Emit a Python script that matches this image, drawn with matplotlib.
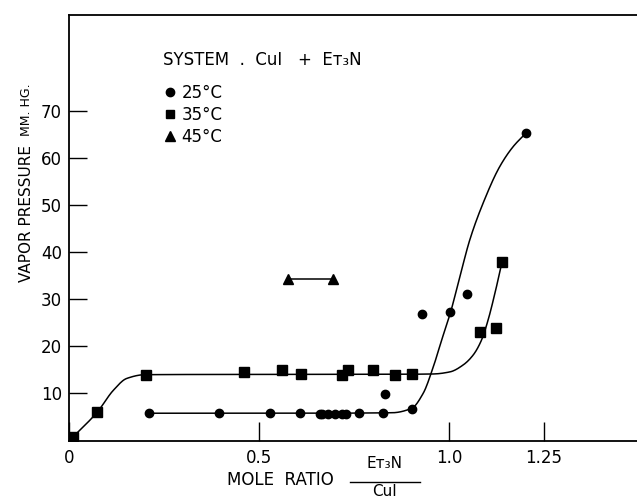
import numpy as np
import matplotlib
matplotlib.use("Agg")
import matplotlib.pyplot as plt
from matplotlib.lines import Line2D

plt.rcParams['font.family'] = ['DejaVu Sans']

x25 = [0.211, 0.396, 0.529, 0.608, 0.661, 0.665, 0.682, 0.700, 0.718, 0.728,
       0.764, 0.827, 0.833, 0.902, 0.930, 1.004, 1.047, 1.203]
y25 = [5.8, 5.9, 5.9, 5.9, 5.7, 5.6, 5.6, 5.6, 5.6, 5.7,
       5.9, 5.9, 9.9, 6.8, 26.9, 27.3, 31.1, 65.4]

x35 = [0.01, 0.073, 0.202, 0.461, 0.560, 0.611, 0.718, 0.735, 0.801, 0.858,
       0.902, 1.082, 1.125, 1.140]
y35 = [0.8, 6.0, 13.9, 14.6, 14.9, 14.1, 13.9, 14.9, 15.0, 13.9,
       14.1, 23.1, 24.0, 37.9]

x45 = [0.577, 0.696]
y45 = [34.3, 34.3]

# hand drawn fit curves (knots)
c25_x = [0.211, 0.60, 0.85, 0.902, 0.932, 0.959, 0.981, 1.004, 1.029, 1.055,
         1.090, 1.134, 1.169, 1.203]
c25_y = [5.8, 5.8, 5.9, 6.85, 10.0, 15.7, 21.4, 27.2, 34.9, 42.7,
         50.5, 58.3, 62.5, 65.4]

c35_x = [0.01, 0.075, 0.117, 0.152, 0.20, 0.40, 0.902, 0.959, 1.003, 1.038,
         1.064, 1.086, 1.103, 1.121, 1.139]
c35_y = [0.7, 6.1, 10.7, 13.2, 14.0, 14.05, 14.1, 14.15, 14.6, 16.1,
         18.2, 21.4, 25.6, 31.3, 37.7]


def pchip(xk, yk, xs):
    xk = np.asarray(xk, float)
    yk = np.asarray(yk, float)
    h = np.diff(xk)
    d = np.diff(yk) / h
    m = np.zeros_like(yk)
    m[0] = d[0]
    m[-1] = d[-1]
    for i in range(1, len(xk) - 1):
        if d[i - 1] * d[i] <= 0:
            m[i] = 0
        else:
            w1 = 2 * h[i] + h[i - 1]
            w2 = h[i] + 2 * h[i - 1]
            m[i] = (w1 + w2) / (w1 / d[i - 1] + w2 / d[i])
    idx = np.clip(np.searchsorted(xk, xs) - 1, 0, len(xk) - 2)
    t = (xs - xk[idx]) / h[idx]
    h00 = 2 * t**3 - 3 * t**2 + 1
    h10 = t**3 - 2 * t**2 + t
    h01 = -2 * t**3 + 3 * t**2
    h11 = t**3 - t**2
    return (h00 * yk[idx] + h10 * h[idx] * m[idx]
            + h01 * yk[idx + 1] + h11 * h[idx] * m[idx + 1])


fig = plt.figure(figsize=(6.37, 5.0), dpi=100)
ax = fig.add_axes([0.1083, 0.119, 0.8917, 0.851])

xs = np.linspace(c25_x[0], c25_x[-1], 500)
ax.plot(xs, pchip(c25_x, c25_y, xs), color='black', lw=1.1)
xs = np.linspace(c35_x[0], c35_x[-1], 500)
ax.plot(xs, pchip(c35_x, c35_y, xs), color='black', lw=1.1)
ax.plot(x45, y45, color='black', lw=1.1)

ax.plot(x25, y25, 'o', color='black', ms=6, ls='none')
ax.plot(x35, y35, 's', color='black', ms=7, ls='none')
ax.plot(x45, y45, '^', color='black', ms=7.5, ls='none')

ax.set_xlim(0, 1.495)
ax.set_ylim(0, 90.5)
ax.set_xticks([0, 0.5, 1.0, 1.25])
ax.set_xticklabels(['0', '0.5', '1.0', '1.25'])
ax.set_yticks([10, 20, 30, 40, 50, 60, 70])
ax.tick_params(axis='both', direction='in', labelsize=12, width=1.0, color='black')
ax.tick_params(axis='y', length=13, pad=5)
ax.tick_params(axis='x', length=14, pad=6)
ax.spines['right'].set_visible(False)
for s in ['left', 'bottom', 'top']:
    ax.spines[s].set_linewidth(1.3)

# axis labels
fig.text(0.356, 0.04, 'MOLE  RATIO', fontsize=12, ha='left', va='center')
fig.text(0.604, 0.072, 'Eᴛ₃N', fontsize=11, ha='center', va='center')
fig.text(0.604, 0.016, 'CuI', fontsize=11, ha='center', va='center')
fig.add_artist(Line2D([0.55, 0.66], [0.036, 0.036], color='black', lw=1.0))
fig.text(0.042, 0.574, 'VAPOR PRESSURE', fontsize=11, rotation=90, ha='center', va='center')
fig.text(0.042, 0.78, 'MM. HG.', fontsize=9, rotation=90, ha='center', va='center')

# legend block
ax.text(0.166, 0.894, 'SYSTEM  .  CuI   +  Eᴛ₃N', transform=ax.transAxes,
        fontsize=12, ha='left', va='center')
handles = [
    Line2D([], [], marker='o', color='black', ls='none', ms=6),
    Line2D([], [], marker='s', color='black', ls='none', ms=6),
    Line2D([], [], marker='^', color='black', ls='none', ms=7),
]
ax.legend(handles, ['25°C', '35°C', '45°C'], loc='upper left',
          bbox_to_anchor=(0.169, 0.838), frameon=False, fontsize=12,
          handlelength=0.6, handletextpad=0.4, labelspacing=0.25,
          borderaxespad=0, borderpad=0)

fig.savefig('out.png', dpi=100)
